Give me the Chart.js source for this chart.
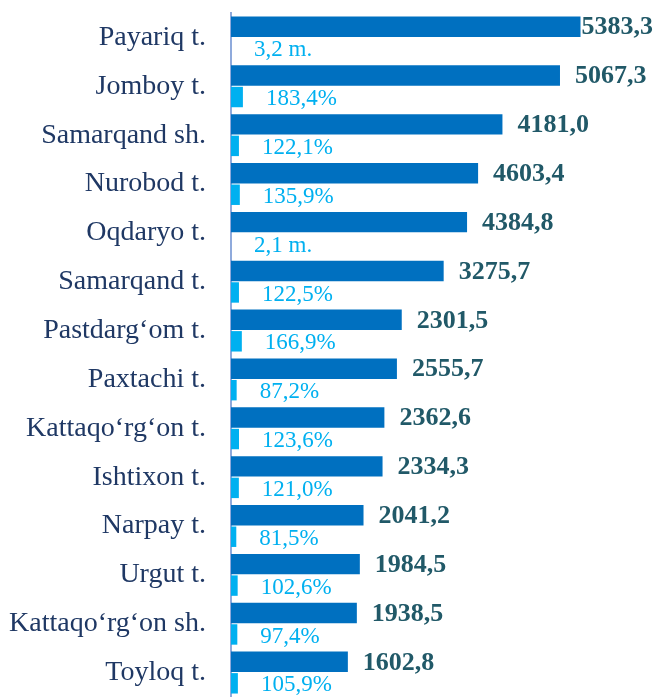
<!DOCTYPE html>
<html>
<head>
<meta charset="utf-8">
<script src="https://cdn.jsdelivr.net/npm/chart.js@4.4.1/dist/chart.umd.min.js"></script>
<style>
    body { margin: 0; background: #fff; }
    #wrap { width: 653px; height: 697px; position: relative; }
</style>
</head>
<body>
<div id="wrap"><canvas id="myChart"></canvas></div>
<script>
const districts = ['Payariq t.', 'Jomboy t.', 'Samarqand sh.', 'Nurobod t.', 'Oqdaryo t.', 'Samarqand t.',
    'Pastdarg‘om t.', 'Paxtachi t.', 'Kattaqo‘rg‘on t.', 'Ishtixon t.', 'Narpay t.', 'Urgut t.',
    'Kattaqo‘rg‘on sh.', 'Toyloq t.'];

// bar lengths (some bars do not match their printed value)
const volumeBars = [5383.3, 5067.3, 4181.0, 3806, 3636, 3275.7, 2630, 2555.7, 2362.6, 2334.3, 2041.2, 1984.5, 1938.5, 1800];
const volumeLabels = ['5383,3', '5067,3', '4181,0', '4603,4', '4384,8', '3275,7', '2301,5', '2555,7', '2362,6', '2334,3', '2041,2', '1984,5', '1938,5', '1602,8'];

// growth rate, % (no bar drawn where the rate is given in times)
const growthBars = [null, 183.4, 122.1, 135.9, null, 122.5, 166.9, 87.2, 123.6, 121.0, 81.5, 102.6, 97.4, 105.9];
const growthLabels = ['3,2 m.', '183,4%', '122,1%', '135,9%', '2,1 m.', '122,5%', '166,9%', '87,2%', '123,6%', '121,0%', '81,5%', '102,6%', '97,4%', '105,9%'];

const serif = '"Liberation Serif", "Times New Roman", serif';

// draws the numbers next to the bars
const valueLabels = {
    id: 'valueLabels',
    afterDatasetsDraw(chart) {
        const ctx = chart.ctx;
        const xScale = chart.scales.x;
        ctx.save();
        ctx.textBaseline = 'middle';
        ctx.textAlign = 'left';

        chart.getDatasetMeta(0).data.forEach((bar, i) => {
            ctx.font = 'bold 26px ' + serif;
            ctx.fillStyle = '#215968';
            const txt = volumeLabels[i];
            const w = ctx.measureText(txt).width;
            let x = bar.x + 15;
            if (x + w > chart.width) x = chart.width - w;
            ctx.fillText(txt, x, bar.y + 1);
        });

        chart.getDatasetMeta(1).data.forEach((bar, i) => {
            ctx.font = '23px ' + serif;
            ctx.fillStyle = '#00B0F0';
            const end = growthBars[i] == null ? xScale.getPixelForValue(0) : bar.x;
            ctx.fillText(growthLabels[i], end + 23, bar.y + 2);
        });
        ctx.restore();
    }
};

const ctx = document.getElementById('myChart').getContext('2d');
new Chart(ctx, {
    type: 'bar',
    data: {
        labels: districts,
        datasets: [{
            data: volumeBars,
            backgroundColor: '#0070C0',
            categoryPercentage: 0.88,
            barPercentage: 0.95
        }, {
            data: growthBars,
            backgroundColor: '#00B0F0',
            categoryPercentage: 0.88,
            barPercentage: 0.95
        }]
    },
    options: {
        indexAxis: 'y',
        responsive: true,
        maintainAspectRatio: false,
        animation: false,
        layout: {padding: {top: 13, right: 0, bottom: 0, left: 0}},
        plugins: {
            legend: {display: false},
            tooltip: {enabled: false}
        },
        scales: {
            x: {
                display: false,
                min: 0,
                max: 6500
            },
            y: {
                grid: {display: false, drawTicks: false},
                border: {display: true, color: '#8FAADC', width: 2},
                ticks: {
                    color: '#1F3864',
                    padding: 25,
                    font: {family: serif, size: 28}
                },
                afterFit(scale) {
                    scale.width = 231;
                    scale.paddingTop = 0;
                    scale.paddingBottom = 0;
                }
            }
        }
    },
    plugins: [valueLabels]
});
</script>
</body>
</html>
